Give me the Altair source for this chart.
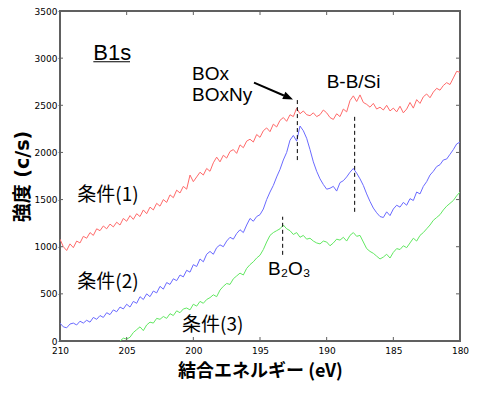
import altair as alt
import pandas as pd

# ---------------- data ----------------
E_HIGH = 210.0          # first energy of every series (eV)
E_STEP = 0.25           # spacing of the points (eV)
GREEN_START = 205.5     # green series begins here (below 0 before)

series_names = ["条件(1)", "条件(2)", "条件(3)"]
series_colors = ["#ff6a6a", "#6a6aff", "#62e862"]

red_counts = [
    1080, 1000, 960, 1030, 990, 1060, 1040, 1110, 1090, 1150,
    1120, 1190, 1170, 1220, 1190, 1240, 1210, 1260, 1230, 1300,
    1270, 1330, 1290, 1350, 1320, 1390, 1350, 1420, 1390, 1460,
    1430, 1500, 1470, 1550, 1520, 1600, 1570, 1640, 1610, 1760,
    1690, 1740, 1790, 1760, 1830, 1800, 1890, 1950, 1900, 1970,
    1940, 2010, 2030, 1990, 2080, 2050, 2120, 2140, 2110, 2190,
    2160, 2230, 2260, 2220, 2300, 2270, 2340, 2370, 2330, 2400,
    2380, 2470, 2410, 2440, 2400, 2390, 2420, 2380, 2400, 2450,
    2420, 2370, 2350, 2410, 2380, 2460, 2430, 2550, 2600, 2540,
    2610, 2530, 2510, 2480, 2520, 2460, 2480, 2450, 2500, 2440,
    2470, 2430, 2490, 2420, 2460, 2530, 2470, 2560, 2520, 2590,
    2620, 2580, 2640, 2680, 2660, 2710, 2740, 2720, 2790, 2860,
    2850,
]

blue_counts = [
    190, 150, 140, 180, 190, 170, 210, 190, 220, 200,
    250, 230, 270, 250, 300, 280, 330, 310, 360, 340,
    390, 360, 420, 400, 470, 440, 500, 470, 530, 510,
    580, 550, 620, 600, 660, 640, 700, 680, 750, 730,
    810, 790, 870, 840, 920, 950, 920, 990, 1020, 1000,
    1060, 1100, 1080, 1140, 1180, 1150, 1230, 1300, 1270, 1320,
    1340, 1400, 1500, 1580, 1650, 1740, 1820, 1920, 2000, 2130,
    2180, 2120, 2280, 2230, 2150, 2030, 1900, 1800, 1720, 1660,
    1610, 1620, 1640, 1590, 1680, 1700, 1740, 1790, 1830, 1780,
    1720, 1650, 1560, 1480, 1410, 1360, 1320, 1310, 1370, 1330,
    1400, 1440, 1420, 1470, 1440, 1510, 1490, 1580, 1560, 1640,
    1690, 1760, 1800, 1850, 1870, 1920, 1930, 1980, 2030, 2090,
    2110,
]

green_counts = [
    0, 30, 20, 40, 90, 120, 150, 110, 170, 200,
    190, 240, 230, 260, 240, 290, 270, 320, 300, 340,
    350, 330, 390, 370, 420, 400, 440, 460, 490, 470,
    540, 580, 610, 600, 660, 690, 720, 700, 770, 810,
    840, 880, 910, 970, 1050, 1120, 1150, 1170, 1190, 1230,
    1190, 1170, 1130, 1150, 1100, 1120, 1080, 1090, 1060, 1040,
    1030, 1060, 1050, 1010, 1040, 1080, 1070, 1100, 1060, 1120,
    1150, 1110, 1120, 1050, 980, 950, 930, 900, 870, 890,
    920, 880, 940, 980, 970, 1010, 990, 1040, 1090, 1060,
    1120, 1150, 1190, 1230, 1280, 1310, 1340, 1390, 1430, 1460,
    1490, 1540, 1580,
]

x_tick_values = [210, 205, 200, 195, 190, 185, 180]
y_tick_values = [0, 500, 1000, 1500, 2000, 2500, 3000, 3500]
inner_x_ticks = [205, 200, 195, 190, 185]
inner_y_ticks = [500, 1000, 1500, 2000, 2500, 3000]

# annotation texts (energy, intensity) anchors
latin_text = ["BOx", "BOxNy", "B-B/Si", "B₂O₃"]
latin_E = [200.1, 200.1, 190.0, 194.4]
latin_v = [2769, 2541, 2688, 703]

cjk_text = ["条件(1)", "条件(2)", "条件(3)"]
cjk_E = [208.7, 208.7, 200.85]
cjk_v = [1486, 559, 105]

title_text = ["B1s"]
title_E = [207.5]
title_v = [2983]
underline_E = [207.5]
underline_E2 = [204.75]
underline_v = [2962]

dash_E = [192.2, 187.9, 193.3]
dash_v = [1919, 1370, 914]
dash_v2 = [2562, 2404, 1318]

arrow_E = [195.45, 193.21]
arrow_v = [2741, 2604]
arrow_tip_E = [192.525]
arrow_tip_v = [2562]

# ---------------- build tables ----------------
rows = []
for name, vals, start in [
    (series_names[0], red_counts, E_HIGH),
    (series_names[1], blue_counts, E_HIGH),
    (series_names[2], green_counts, GREEN_START),
]:
    for i, v in enumerate(vals):
        rows.append({"series": name, "E": start - E_STEP * i, "v": v, "i": i})
spec_df = pd.DataFrame(rows)

W, H = 400, 330

xscale = alt.Scale(domain=[180, 210], reverse=True, nice=False, zero=False)
yscale = alt.Scale(domain=[0, 3500], nice=False, zero=False)

xaxis = alt.Axis(
    values=x_tick_values, format="d", grid=False, domain=False, ticks=False,
    labelFont="DejaVu Sans", labelFontSize=9, labelColor="black", labelPadding=5,
    labelFlush=False,
    title="結合エネルギー (eV)", titleFont="Noto Sans CJK JP", titleFontSize=18,
    titleFontWeight="bold", titleColor="black", titleY=21, titleBaseline="top",
)
yaxis = alt.Axis(
    values=y_tick_values, format="d", grid=False, domain=False,
    tickSize=2, tickColor="#606060", labelPadding=1,
    labelFont="DejaVu Sans", labelFontSize=9, labelColor="black",
    labelFlush=False,
    title="強度 (c/s)", titleFont="DejaVu Sans, Noto Sans CJK JP", titleFontSize=19,
    titleFontWeight="bold", titleColor="black", titleX=-38, titleBaseline="middle",
)

X = alt.X("E:Q", scale=xscale, axis=xaxis)
Y = alt.Y("v:Q", scale=yscale, axis=yaxis)

lines = alt.Chart(spec_df).mark_line(strokeWidth=1, clip=True).encode(
    x=X, y=Y,
    color=alt.Color("series:N", scale=alt.Scale(domain=series_names, range=series_colors), legend=None),
    order="i:Q",
)

tick_color = "#606060"
xt = alt.Chart(pd.DataFrame({"E": inner_x_ticks}))
yt = alt.Chart(pd.DataFrame({"v": inner_y_ticks}))
bottom_ticks = xt.mark_rule(color=tick_color).encode(x=X, y=alt.value(H), y2=alt.value(H - 4))
top_ticks = xt.mark_rule(color=tick_color).encode(x=X, y=alt.value(0), y2=alt.value(4))
left_ticks = yt.mark_rule(color=tick_color).encode(y=Y, x=alt.value(0), x2=alt.value(3))
right_ticks = yt.mark_rule(color=tick_color).encode(y=Y, x=alt.value(W), x2=alt.value(W - 4))

dashes = alt.Chart(pd.DataFrame({"E": dash_E, "v": dash_v, "v2": dash_v2})).mark_rule(
    color="black", strokeWidth=1, strokeDash=[4, 3]
).encode(x=X, y=Y, y2="v2:Q")

arrow_line = alt.Chart(pd.DataFrame({"E": arrow_E, "v": arrow_v, "k": [0, 1]})).mark_line(
    color="black", strokeWidth=2
).encode(x=X, y=Y, order="k:Q")

arrow_head = alt.Chart(pd.DataFrame({"E": arrow_tip_E, "v": arrow_tip_v})).mark_point(
    shape="M0,0L-2,-0.8L-2,0.8Z", size=100, filled=True, color="black",
    opacity=1, angle=23.5, strokeWidth=0
).encode(x=X, y=Y)

latin = alt.Chart(pd.DataFrame({"E": latin_E, "v": latin_v, "t": latin_text})).mark_text(
    font="Liberation Sans", fontSize=19, align="left", baseline="alphabetic", color="black"
).encode(x=X, y=Y, text="t:N")

cjk = alt.Chart(pd.DataFrame({"E": cjk_E, "v": cjk_v, "t": cjk_text})).mark_text(
    font="Noto Sans CJK JP", fontSize=19, align="left", baseline="alphabetic", color="black"
).encode(x=X, y=Y, text="t:N")

b1s = alt.Chart(pd.DataFrame({"E": title_E, "v": title_v, "t": title_text})).mark_text(
    font="Liberation Sans", fontSize=22, align="left", baseline="alphabetic", color="black"
).encode(x=X, y=Y, text="t:N")

underline = alt.Chart(pd.DataFrame({"E": underline_E, "E2": underline_E2, "v": underline_v})).mark_rule(
    color="black", strokeWidth=1.2
).encode(x=X, x2="E2:Q", y=Y)

chart = alt.layer(
    lines, bottom_ticks, top_ticks, left_ticks, right_ticks,
    dashes, arrow_line, arrow_head, latin, cjk, b1s, underline,
).properties(
    width=W, height=H,
    autosize=alt.AutoSizeParams(type="none"),
    padding={"left": 52, "top": 3, "right": 14, "bottom": 50},
    background="white",
).configure_view(stroke="#606060", strokeWidth=2)

chart.save("out.html", embed_options={"renderer": "svg", "actions": False})
